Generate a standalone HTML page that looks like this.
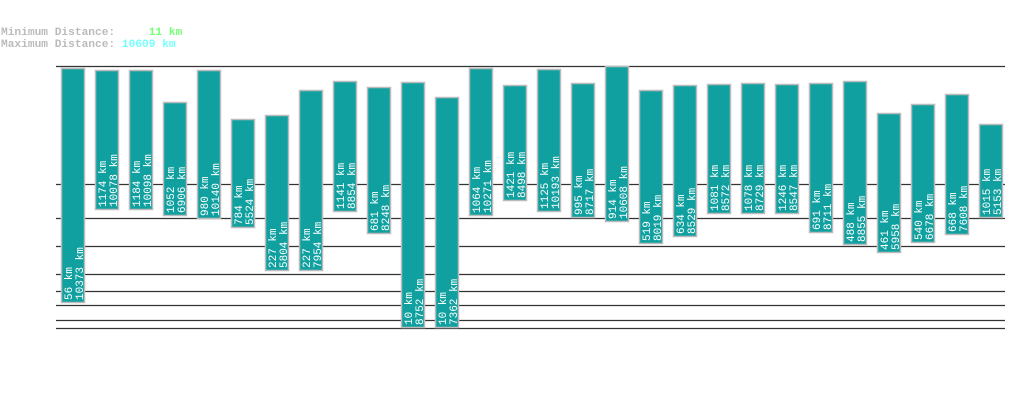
<!DOCTYPE html>
<html><head><style>body{margin:0;background:#fff}svg{display:block}</style></head><body>
<svg width="1019" height="402" xmlns="http://www.w3.org/2000/svg" font-family="Liberation Mono, monospace">
<text x="1" y="35" font-size="11.2" font-weight="bold" fill="#bbb" xml:space="preserve">Minimum Distance:     <tspan fill="#77ff77">11 km</tspan></text>
<text x="1" y="47" font-size="11.2" font-weight="bold" fill="#bbb" xml:space="preserve">Maximum Distance: <tspan fill="#77ffff">10609 km</tspan></text>
<g stroke="#333" stroke-width="1.2">
<line x1="56" x2="1005" y1="66.5" y2="66.5"/><line x1="56" x2="1005" y1="184.5" y2="184.5"/><line x1="56" x2="1005" y1="218.5" y2="218.5"/><line x1="56" x2="1005" y1="246.5" y2="246.5"/><line x1="56" x2="1005" y1="274.5" y2="274.5"/><line x1="56" x2="1005" y1="291.5" y2="291.5"/><line x1="56" x2="1005" y1="305.5" y2="305.5"/><line x1="56" x2="1005" y1="320.5" y2="320.5"/><line x1="56" x2="1005" y1="328.5" y2="328.5"/>
</g>
<g fill="#11a0a0" stroke="#bbb" stroke-width="1.5">
<rect x="61.5" y="68.5" width="23" height="234"/>
<rect x="95.5" y="70.5" width="23" height="139"/>
<rect x="129.5" y="70.5" width="23" height="139"/>
<rect x="163.5" y="102.5" width="23" height="113"/>
<rect x="197.5" y="70.5" width="23" height="148"/>
<rect x="231.5" y="119.5" width="23" height="108"/>
<rect x="265.5" y="115.5" width="23" height="155"/>
<rect x="299.5" y="90.5" width="23" height="180"/>
<rect x="333.5" y="81.5" width="23" height="130"/>
<rect x="367.5" y="87.5" width="23" height="146"/>
<rect x="401.5" y="82.5" width="23" height="245"/>
<rect x="435.5" y="97.5" width="23" height="230"/>
<rect x="469.5" y="68.5" width="23" height="147"/>
<rect x="503.5" y="85.5" width="23" height="115"/>
<rect x="537.5" y="69.5" width="23" height="142"/>
<rect x="571.5" y="83.5" width="23" height="134"/>
<rect x="605.5" y="66.5" width="23" height="155"/>
<rect x="639.5" y="90.5" width="23" height="153"/>
<rect x="673.5" y="85.5" width="23" height="151"/>
<rect x="707.5" y="84.5" width="23" height="129"/>
<rect x="741.5" y="83.5" width="23" height="130"/>
<rect x="775.5" y="84.5" width="23" height="129"/>
<rect x="809.5" y="83.5" width="23" height="149"/>
<rect x="843.5" y="81.5" width="23" height="163"/>
<rect x="877.5" y="113.5" width="23" height="139"/>
<rect x="911.5" y="104.5" width="23" height="138"/>
<rect x="945.5" y="94.5" width="23" height="140"/>
<rect x="979.5" y="124.5" width="23" height="93"/>
</g>
<g font-size="11" fill="#fff">
<text transform="translate(72,300) rotate(-90)">56 km</text><text transform="translate(83,300) rotate(-90)">10373 km</text>
<text transform="translate(106,207) rotate(-90)">1174 km</text><text transform="translate(117,207) rotate(-90)">10078 km</text>
<text transform="translate(140,207) rotate(-90)">1184 km</text><text transform="translate(151,207) rotate(-90)">10098 km</text>
<text transform="translate(174,213) rotate(-90)">1052 km</text><text transform="translate(185,213) rotate(-90)">6906 km</text>
<text transform="translate(208,216) rotate(-90)">980 km</text><text transform="translate(219,216) rotate(-90)">10140 km</text>
<text transform="translate(242,225) rotate(-90)">784 km</text><text transform="translate(253,225) rotate(-90)">5524 km</text>
<text transform="translate(276,268) rotate(-90)">227 km</text><text transform="translate(287,268) rotate(-90)">5804 km</text>
<text transform="translate(310,268) rotate(-90)">227 km</text><text transform="translate(321,268) rotate(-90)">7954 km</text>
<text transform="translate(344,209) rotate(-90)">1141 km</text><text transform="translate(355,209) rotate(-90)">8854 km</text>
<text transform="translate(378,231) rotate(-90)">681 km</text><text transform="translate(389,231) rotate(-90)">8248 km</text>
<text transform="translate(412,325) rotate(-90)">10 km</text><text transform="translate(423,325) rotate(-90)">8752 km</text>
<text transform="translate(446,325) rotate(-90)">10 km</text><text transform="translate(457,325) rotate(-90)">7362 km</text>
<text transform="translate(480,213) rotate(-90)">1064 km</text><text transform="translate(491,213) rotate(-90)">10271 km</text>
<text transform="translate(514,198) rotate(-90)">1421 km</text><text transform="translate(525,198) rotate(-90)">8498 km</text>
<text transform="translate(548,209) rotate(-90)">1125 km</text><text transform="translate(559,209) rotate(-90)">10193 km</text>
<text transform="translate(582,215) rotate(-90)">995 km</text><text transform="translate(593,215) rotate(-90)">8717 km</text>
<text transform="translate(616,219) rotate(-90)">914 km</text><text transform="translate(627,219) rotate(-90)">10608 km</text>
<text transform="translate(650,241) rotate(-90)">519 km</text><text transform="translate(661,241) rotate(-90)">8019 km</text>
<text transform="translate(684,234) rotate(-90)">634 km</text><text transform="translate(695,234) rotate(-90)">8529 km</text>
<text transform="translate(718,211) rotate(-90)">1081 km</text><text transform="translate(729,211) rotate(-90)">8572 km</text>
<text transform="translate(752,211) rotate(-90)">1078 km</text><text transform="translate(763,211) rotate(-90)">8729 km</text>
<text transform="translate(786,211) rotate(-90)">1246 km</text><text transform="translate(797,211) rotate(-90)">8547 km</text>
<text transform="translate(820,230) rotate(-90)">691 km</text><text transform="translate(831,230) rotate(-90)">8711 km</text>
<text transform="translate(854,242) rotate(-90)">488 km</text><text transform="translate(865,242) rotate(-90)">8855 km</text>
<text transform="translate(888,250) rotate(-90)">461 km</text><text transform="translate(899,250) rotate(-90)">5958 km</text>
<text transform="translate(922,240) rotate(-90)">540 km</text><text transform="translate(933,240) rotate(-90)">6678 km</text>
<text transform="translate(956,232) rotate(-90)">668 km</text><text transform="translate(967,232) rotate(-90)">7608 km</text>
<text transform="translate(990,215) rotate(-90)">1015 km</text><text transform="translate(1001,215) rotate(-90)">5153 km</text>
</g>
</svg>
</body></html>
